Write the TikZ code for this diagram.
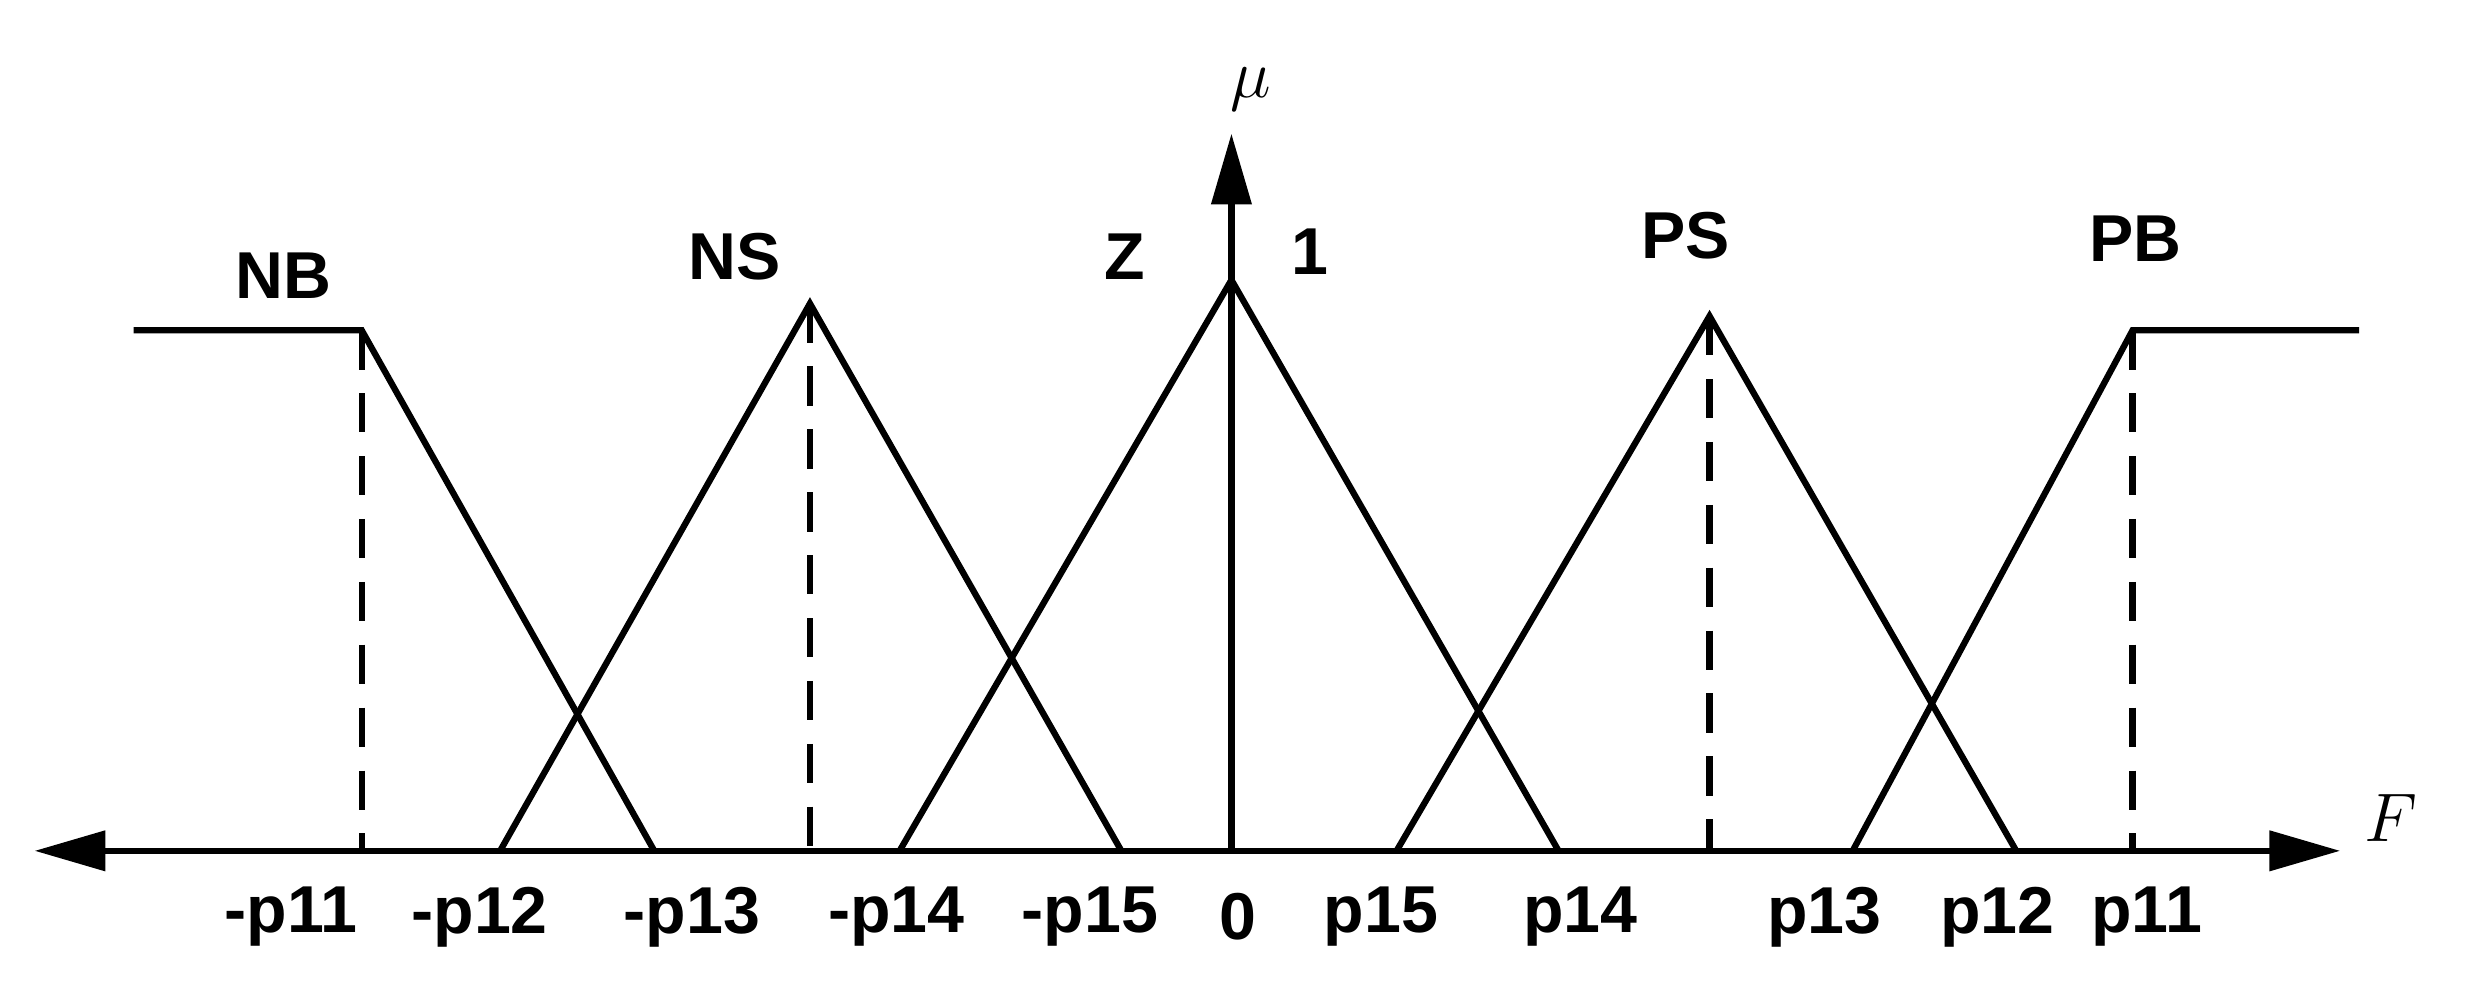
\documentclass[tikz,border=0pt]{standalone}
\usepackage{fontspec}
\setmainfont{Liberation Sans}
\usetikzlibrary{arrows.meta}
\begin{document}
\begin{tikzpicture}[x=0.02cm,y=-0.02cm,
  mf/.style={line width=0.08cm,line join=miter},
  dsh/.style={line width=0.08cm,dash pattern=on 0.5cm off 0.3cm},
  lbl/.style={font=\fontsize{24}{28}\selectfont\bfseries,inner sep=0pt},
  tip/.style={-{Triangle[length=0.9cm,width=0.5cm]}}]
\useasboundingbox (0,0) rectangle (1568,631);
% axes
\coordinate (o) at (783,541);
\coordinate (xl) at (22,541);
\coordinate (xr) at (1488,541);
\coordinate (yt) at (783,85);
\draw[mf,tip] (o) -- (xr);
\draw[mf,tip] (o) -- (xl);
\draw[mf,tip] (o) -- (yt);
\node[font=\fontsize{30}{34}\selectfont\itshape,inner sep=0pt] (mu) at (795,57) {$\mu$};
\node[font=\fontsize{30}{34}\selectfont\itshape,inner sep=0pt] (F) at (1520,520) {$F$};
\node[lbl] (one) at (833,160) {1};
% NB
\coordinate (nb0) at (85,210); \coordinate (nb1) at (230,210); \coordinate (nb2) at (416,541);
\draw[mf] (nb0) -- (nb1) -- (nb2);
\draw[dsh] (nb1) -- (230,541);
% NS
\coordinate (ns0) at (318,541); \coordinate (ns1) at (515,193); \coordinate (ns2) at (713,541);
\draw[mf] (ns0) -- (ns1) -- (ns2);
\draw[dsh] (ns1) -- (515,541);
% Z
\coordinate (z0) at (572,541); \coordinate (z1) at (783,178); \coordinate (z2) at (991,541);
\draw[mf] (z0) -- (z1) -- (z2);
% PS
\coordinate (ps0) at (888,541); \coordinate (ps1) at (1087,201); \coordinate (ps2) at (1282,541);
\draw[mf] (ps0) -- (ps1) -- (ps2);
\draw[dsh] (ps1) -- (1087,541);
% PB
\coordinate (pb0) at (1178,541); \coordinate (pb1) at (1356,210); \coordinate (pb2) at (1500,210);
\draw[mf] (pb0) -- (pb1) -- (pb2);
\draw[dsh] (pb1) -- (1356,541);
% set labels
\node[lbl] (lNB) at (180,175) {NB};
\node[lbl] (lNS) at (467,163) {NS};
\node[lbl] (lZ) at (715,163) {Z};
\node[lbl] (lPS) at (1072,150) {PS};
\node[lbl] (lPB) at (1358,152) {PB};
% ticks
\foreach \x/\t/\n in {185/-p11/a,305/-p12/b,440/-p13/c,570/-p14/d,693/-p15/e,787/0/f,878/p15/g,1005/p14/h,1160/p13/i,1270/p12/j,1365/p11/k}
  \node[lbl] (t\n) at (\x,583) {\t};
\end{tikzpicture}
\end{document}
